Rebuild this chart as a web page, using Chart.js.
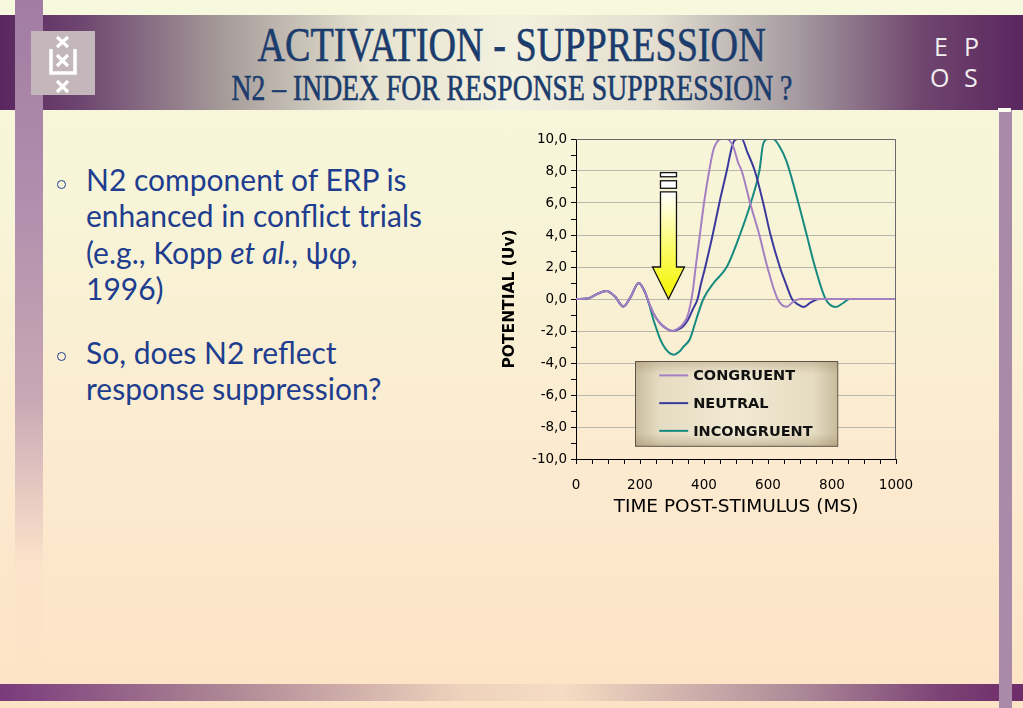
<!DOCTYPE html>
<html><head><meta charset="utf-8">
<script src="https://cdn.jsdelivr.net/npm/chart.js@4/dist/chart.umd.min.js"></script>
<style>
html,body{margin:0;padding:0;width:1023px;height:708px;overflow:hidden}
body{position:relative;background:linear-gradient(to bottom,#f6f9de 0%,#f8f3d6 35%,#fcead0 65%,#fde3c5 100%);font-family:"DejaVu Sans",sans-serif}
.abs{position:absolute}
#header{left:0;top:15px;width:1023px;height:95px;background:linear-gradient(to right,#5a2660 0%,#6e4670 8%,#a69c9a 22%,#e6e2d0 36%,#f3f1df 50%,#e4dfd0 64%,#a49aa0 78%,#70466e 90%,#5a2660 100%)}
#lstrip{left:15px;top:0;width:28px;height:665px;background:linear-gradient(to bottom,#a27ca4 0%,#b08ead 30%,#c8a8b4 60%,rgba(250,222,200,0.4) 85%,rgba(253,227,197,0) 100%)}
#rstrip{left:999px;top:110px;width:13px;height:598px;background:#a98aa9}
#rwhite{left:998px;top:108px;width:13px;height:4px;background:#fdfdf4}
#bottom{left:0;top:684px;width:1023px;height:17px;background:linear-gradient(to right,#7a3a7c 0%,#a88092 20%,#eed2bc 45%,#f6dcc2 55%,#ad8a98 78%,#7c4276 92%,#6e2c6a 100%)}
#logo{left:31px;top:31px;width:64px;height:64px;background:#c4b7bb}
.title{left:0;width:1023px;text-align:center;color:#1b3c6c;font-family:"Liberation Serif",serif;white-space:nowrap;-webkit-text-stroke:0.6px #1b3c6c}
.title span{display:inline-block;transform-origin:center}
#t1{top:20px;font-size:48px;line-height:50px}
#t1 span{transform:scaleX(0.795)}
#t2{top:70px;font-size:35px;line-height:38px}
#t2 span{transform:scaleX(0.79)}
.epos{color:#f2eef0;font-family:"Open Sans",sans-serif;font-weight:400;font-size:25px;line-height:25px}
#bul{left:86px;top:161px;color:#1e3d8e;font-family:"Lato",sans-serif;font-size:30px;line-height:36.3px;white-space:nowrap}
.dot{position:absolute;width:7px;height:7px;border:1.3px solid #1e3d8e;border-radius:50%}
#chartbox{left:490px;top:125px;width:440px;height:400px}
</style></head>
<body>
<div id="header" class="abs"></div>
<div id="lstrip" class="abs"></div>
<div id="bottom" class="abs"></div>
<div id="rstrip" class="abs"></div>
<div id="rwhite" class="abs"></div>
<div id="logo" class="abs">
<svg width="64" height="64" viewBox="0 0 64 64">
<g stroke="#ffffff" stroke-width="3.2" stroke-linecap="butt" fill="none">
<path d="M26 6 L37 16 M37 6 L26 16"/>
<path d="M26 24 L37 35 M37 24 L26 35"/>
<path d="M26 50 L37 61 M37 50 L26 61"/>
<path d="M20 18 L20 42 L44 42 L44 18" stroke-width="3.6"/>
</g></svg>
</div>
<div id="t1" class="abs title"><span>ACTIVATION - SUPPRESSION</span></div>
<div id="t2" class="abs title"><span>N2 – INDEX FOR RESPONSE SUPPRESSION ?</span></div>
<div class="abs epos" style="left:934px;top:34px">E</div>
<div class="abs epos" style="left:964px;top:34px">P</div>
<div class="abs epos" style="left:930px;top:65px">O</div>
<div class="abs epos" style="left:964px;top:65px">S</div>
<div class="dot" style="left:57px;top:180px"></div>
<div class="dot" style="left:57px;top:352px"></div>
<div id="bul" class="abs">N2 component of ERP is<br>enhanced in conflict trials<br>(e.g., Kopp <i>et al.</i>, ψφ,<br>1996)<br><div style="height:28px"></div>So, does N2 reflect<br>response suppression?</div>
<div id="chartbox" class="abs"><canvas id="c"></canvas></div>
<script>
// ---- data ----
const seriesLabels = ['CONGRUENT', 'NEUTRAL', 'INCONGRUENT'];
const congruentTime   = [0,40,65,95,122,148,170,196,215,228,242,262,283,300,318,335,348,357,365,374,387,400,417,429,440,452,470,480,492,507,518,544,573,598,630,658,680,700,1000];
const congruentValues = [0,0.05,0.3,0.5,0.15,-0.47,0.1,1.0,0.45,-0.25,-0.9,-1.5,-1.85,-2.0,-1.85,-1.55,-1.1,-0.4,0.5,2.0,4.0,6.0,8.1,9.3,9.8,10.0,10.0,9.9,9.5,8.5,8.0,6.0,4.0,2.0,0,-0.48,-0.15,0,0];
const neutralTime   = [0,40,65,95,122,148,170,196,215,228,242,262,283,302,320,335,350,366,380,390,404,427,448,471,490,505,518,535,559,585,608,637,657,675,695,712,735,760,1000];
const neutralValues = [0,0.05,0.3,0.5,0.15,-0.47,0.1,1.0,0.45,-0.25,-0.9,-1.5,-1.85,-2.0,-1.9,-1.7,-1.3,-0.6,0,0.9,2.0,4.0,6.0,8.0,9.7,10.0,10.0,9.2,8.0,6.0,4.0,2.0,0.9,0,-0.35,-0.5,-0.2,0,0];
const incongruentTime   = [0,40,65,95,122,148,170,196,215,228,242,252,262,283,305,325,335,356,377,398,430,471,512,546,573,585,600,616,637,658,695,721,747,780,812,835,855,1000];
const incongruentValues = [0,0.05,0.3,0.5,0.15,-0.47,0.1,1.0,0.45,-0.3,-1.3,-1.9,-2.46,-3.2,-3.48,-3.25,-3.0,-2.5,-1.2,0,1.0,2.0,4.0,6.0,8.0,9.7,10.0,10.0,9.5,8.6,6.0,4.0,2.0,0,-0.5,-0.25,0,0];
const xTickLabels = [0,200,400,600,800,1000];
const yTickLabels = ['-10,0','-8,0','-6,0','-4,0','-2,0','0,0','2,0','4,0','6,0','8,0','10,0'];

const seriesColors = ['#a47fc2', '#3b3a9c', '#178a80'];
function pts(t, v) { return t.map((x, i) => ({x: x, y: v[i]})); }

// arrow annotation (data units) and legend box (data units)
const arrowAt = {t: 289, tip: 0, headBase: 2.0, shaftTop: 6.7, headHalf: 50, shaftHalf: 25, bars: [[6.92, 7.39], [7.64, 7.9]]};
const legendBox = {t0: 185, t1: 817, vTop: -3.9, vBottom: -9.2};

const decor = {
  id: 'decor',
  afterDatasetsDraw(chart) {
    const {ctx, chartArea: a, scales: {x, y}} = chart;
    ctx.save();
    ctx.strokeStyle = '#6a6a6a'; ctx.lineWidth = 1;
    ctx.beginPath();
    ctx.moveTo(a.left, a.top + 0.5); ctx.lineTo(a.right - 0.5, a.top + 0.5); ctx.lineTo(a.right - 0.5, a.bottom);
    ctx.stroke();
    const cx = x.getPixelForValue(arrowAt.t);
    const sh = x.getPixelForValue(arrowAt.t + arrowAt.shaftHalf) - cx;
    const hh = x.getPixelForValue(arrowAt.t + arrowAt.headHalf) - cx;
    const yTip = y.getPixelForValue(arrowAt.tip), yBase = y.getPixelForValue(arrowAt.headBase), yTop = y.getPixelForValue(arrowAt.shaftTop);
    const g = ctx.createLinearGradient(0, yTop, 0, yTip);
    g.addColorStop(0, '#ffffff'); g.addColorStop(0.55, '#fbfb60'); g.addColorStop(1, '#f4f400');
    ctx.fillStyle = g; ctx.strokeStyle = '#111'; ctx.lineWidth = 1.3; ctx.lineJoin = 'miter';
    ctx.beginPath();
    ctx.moveTo(cx - sh, yTop); ctx.lineTo(cx + sh, yTop); ctx.lineTo(cx + sh, yBase); ctx.lineTo(cx + hh, yBase);
    ctx.lineTo(cx, yTip); ctx.lineTo(cx - hh, yBase); ctx.lineTo(cx - sh, yBase); ctx.closePath();
    ctx.fill(); ctx.stroke();
    ctx.fillStyle = '#ffffff';
    arrowAt.bars.forEach(b => {
      const y0 = y.getPixelForValue(b[1]), y1 = y.getPixelForValue(b[0]);
      ctx.fillRect(cx - sh, y0, 2 * sh, y1 - y0); ctx.strokeRect(cx - sh, y0, 2 * sh, y1 - y0);
    });
    const L = x.getPixelForValue(legendBox.t0), R = x.getPixelForValue(legendBox.t1);
    const T = y.getPixelForValue(legendBox.vTop), B = y.getPixelForValue(legendBox.vBottom);
    const gh = ctx.createLinearGradient(L, 0, R, 0);
    gh.addColorStop(0, '#c9bb9d'); gh.addColorStop(0.12, '#e6dcc2'); gh.addColorStop(0.5, '#f1e9d3'); gh.addColorStop(0.88, '#e6dcc2'); gh.addColorStop(1, '#c9bb9d');
    ctx.fillStyle = gh; ctx.fillRect(L, T, R - L, B - T);
    const gv = ctx.createLinearGradient(0, T, 0, B);
    gv.addColorStop(0, 'rgba(150,130,95,0.35)'); gv.addColorStop(0.15, 'rgba(150,130,95,0)'); gv.addColorStop(0.85, 'rgba(150,130,95,0)'); gv.addColorStop(1, 'rgba(150,130,95,0.4)');
    ctx.fillStyle = gv; ctx.fillRect(L, T, R - L, B - T);
    ctx.strokeStyle = '#5e5446'; ctx.lineWidth = 1; ctx.strokeRect(Math.round(L) + 0.5, Math.round(T) + 0.5, R - L, B - T);
    const h = B - T;
    ctx.font = 'bold 14.5px "DejaVu Sans", sans-serif'; ctx.textBaseline = 'middle'; ctx.fillStyle = '#111';
    chart.data.datasets.forEach((ds, i) => {
      const ry = T + h * (0.165 + 0.327 * i);
      ctx.strokeStyle = ds.borderColor; ctx.lineWidth = 2;
      ctx.beginPath(); ctx.moveTo(L + 24, ry); ctx.lineTo(L + 53, ry); ctx.stroke();
      ctx.fillStyle = '#111'; ctx.fillText(ds.label, L + 58, ry + 1);
    });
    ctx.restore();
  }
};

new Chart(document.getElementById('c'), {
  type: 'line',
  data: {
    datasets: [
      {label: seriesLabels[0], data: pts(congruentTime, congruentValues), borderColor: seriesColors[0]},
      {label: seriesLabels[1], data: pts(neutralTime, neutralValues), borderColor: seriesColors[1]},
      {label: seriesLabels[2], data: pts(incongruentTime, incongruentValues), borderColor: seriesColors[2]}
    ]
  },
  options: {
    responsive: true, maintainAspectRatio: false, animation: false,
    layout: {padding: {left: 0, right: 34, top: 14, bottom: 0}},
    elements: {point: {radius: 0}, line: {borderWidth: 2, cubicInterpolationMode: 'monotone'}},
    plugins: {legend: {display: false}, tooltip: {enabled: false}},
    scales: {
      x: {
        type: 'linear', min: 0, max: 1000,
        afterFit(s) { s.height = 66; },
        border: {color: '#000', width: 1},
        grid: {drawOnChartArea: false, tickLength: 5, tickColor: '#000'},
        ticks: {stepSize: 50, autoSkip: false, maxRotation: 0, padding: 13, color: '#000',
          font: {family: 'DejaVu Sans', size: 13.5},
          callback: v => xTickLabels.includes(v) ? String(v) : ''},
        title: {display: true, text: 'TIME POST-STIMULUS (MS)', color: '#000', font: {family: 'DejaVu Sans', size: 18.5}, padding: {top: 0, bottom: 7}}
      },
      y: {
        type: 'linear', min: -10, max: 10,
        afterFit(s) { s.width = 86; },
        border: {color: '#000', width: 1},
        grid: {color: c => (c.tick && Math.round(c.tick.value) % 2 === 0) ? '#b9b6ac' : 'rgba(0,0,0,0)', tickLength: 5, tickColor: '#000'},
        ticks: {stepSize: 1, autoSkip: false, padding: 4, color: '#000',
          font: {family: 'DejaVu Sans', size: 13.5},
          callback: v => (Math.round(v) % 2 === 0) ? yTickLabels[(Math.round(v) + 10) / 2] : ''},
        title: {display: true, text: 'POTENTIAL (Uv)', color: '#000', font: {family: 'DejaVu Sans', size: 15.5, weight: 'bold'}, padding: {top: 11, bottom: 0}}
      }
    }
  },
  plugins: [decor]
});
</script>
</body></html>
